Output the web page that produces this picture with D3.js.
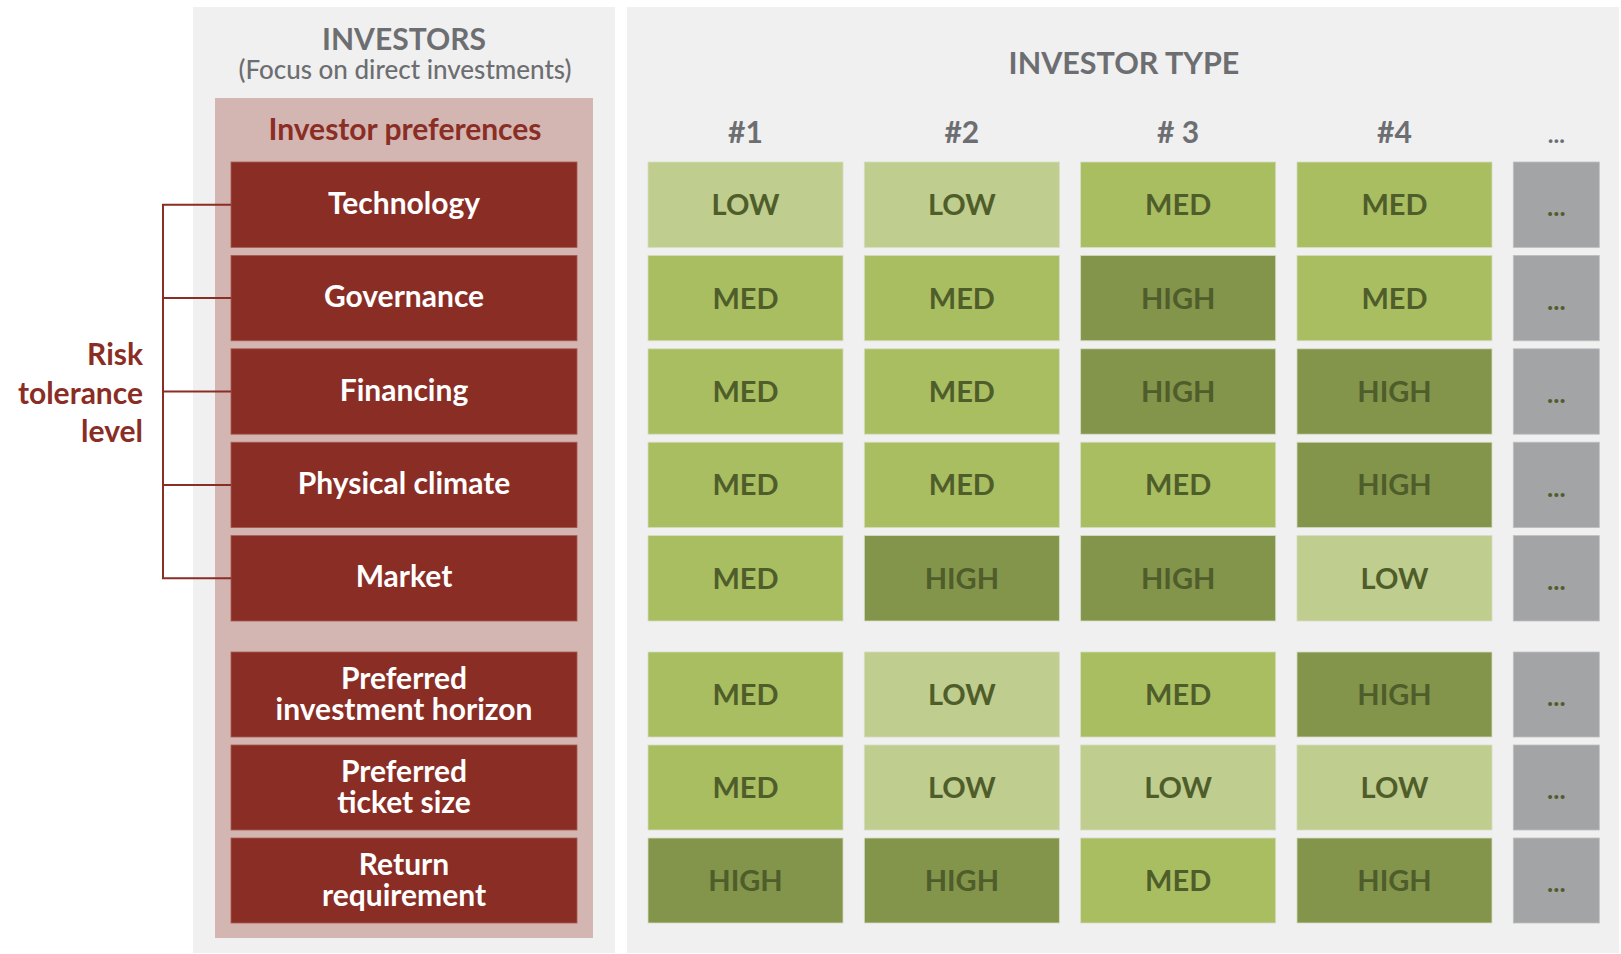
<!DOCTYPE html>
<html>
<head>
<meta charset="utf-8">
<script src="https://cdn.jsdelivr.net/npm/d3@7"></script>
<style>
  html, body { margin: 0; padding: 0; background: #ffffff; }
  svg { display: block; font-family: Lato, "Open Sans", "DejaVu Sans", sans-serif; }
</style>
</head>
<body>
<svg id="chart" width="1621" height="954"></svg>
<script>
// ---- data ----
const riskFactors = ["Technology", "Governance", "Financing", "Physical climate", "Market"];
const otherFactors = [["Preferred", "investment horizon"], ["Preferred", "ticket size"], ["Return", "requirement"]];
const investorTypes = ["#1", "#2", "# 3", "#4"];
const moreLabel = "...";
const levels = ["LOW", "MED", "HIGH"];
// values[row][investor]
const riskValues = [
  ["LOW", "LOW", "MED", "MED"],
  ["MED", "MED", "HIGH", "MED"],
  ["MED", "MED", "HIGH", "HIGH"],
  ["MED", "MED", "MED", "HIGH"],
  ["MED", "HIGH", "HIGH", "LOW"]
];
const otherValues = [
  ["MED", "LOW", "MED", "HIGH"],
  ["MED", "LOW", "LOW", "LOW"],
  ["HIGH", "HIGH", "MED", "HIGH"]
];

// ---- styles ----
const C = {
  panel: "#f0f0f0",
  pink: "#d3b5b1",
  red: "#8a2d25",
  grayText: "#6d6e71",
  cellText: "#4f5d2b",
  more: "#a3a4a6"
};
const color = d3.scaleOrdinal().domain(levels).range(["#bfcd8e", "#a9bd61", "#83944b"]);

const svg = d3.select("#chart");

// ---- scales ----
const yRisk = d3.scaleBand().domain(d3.range(riskFactors.length)).range([162, 621]).paddingInner(0.086).paddingOuter(0);
const yOther = d3.scaleBand().domain(d3.range(otherFactors.length)).range([652, 923]).paddingInner(0.086).paddingOuter(0);
const x = d3.scaleBand().domain(investorTypes).range([648, 1492]).paddingInner(0.0985).paddingOuter(0);
const xMore = x.range()[1] + x.step() * x.paddingInner();
const moreW = 86;

// ---- panels ----
svg.append("rect").attr("x", 193).attr("y", 7).attr("width", 422).attr("height", 946).attr("fill", C.panel);
svg.append("rect").attr("x", 627).attr("y", 7).attr("width", 992).attr("height", 946).attr("fill", C.panel);
svg.append("rect").attr("x", 215).attr("y", 98).attr("width", 378).attr("height", 840).attr("fill", C.pink);

// ---- left header ----
svg.append("text").attr("x", 404).attr("y", 50).attr("text-anchor", "middle")
  .attr("font-size", 30).attr("font-weight", 700).attr("fill", C.grayText).text("INVESTORS");
svg.append("text").attr("x", 405).attr("y", 79).attr("text-anchor", "middle")
  .attr("font-size", 26).attr("font-weight", 500).attr("fill", C.grayText).text("(Focus on direct investments)");
svg.append("text").attr("x", 405).attr("y", 140).attr("text-anchor", "middle")
  .attr("font-size", 30).attr("font-weight", 700).attr("fill", C.red).text("Investor preferences");

// ---- left row boxes ----
const boxX = 231, boxW = 346;
const riskG = svg.append("g");
riskFactors.forEach((name, i) => {
  riskG.append("rect").attr("x", boxX).attr("y", yRisk(i)).attr("width", boxW).attr("height", yRisk.bandwidth())
    .attr("fill", C.red).attr("stroke", "#a85a52").attr("stroke-width", 0.8);
  riskG.append("text").attr("x", boxX + boxW / 2).attr("y", yRisk(i) + yRisk.bandwidth() / 2)
    .attr("dy", "0.3em").attr("text-anchor", "middle").attr("font-size", 30).attr("font-weight", 700)
    .attr("fill", "#ffffff").text(name);
});
otherFactors.forEach((lines, i) => {
  riskG.append("rect").attr("x", boxX).attr("y", yOther(i)).attr("width", boxW).attr("height", yOther.bandwidth())
    .attr("fill", C.red).attr("stroke", "#a85a52").attr("stroke-width", 0.8);
  const t = riskG.append("text").attr("text-anchor", "middle").attr("font-size", 30).attr("font-weight", 700)
    .attr("fill", "#ffffff");
  lines.forEach((ln, k) => {
    t.append("tspan").attr("x", boxX + boxW / 2)
      .attr("y", yOther(i) + yOther.bandwidth() / 2 + (k - 0.5) * 31)
      .attr("dy", "0.33em").text(ln);
  });
});

// ---- bracket ----
const bx = 163;
const centers = riskFactors.map((d, i) => yRisk(i) + yRisk.bandwidth() / 2);
const br = svg.append("g").attr("stroke", C.red).attr("stroke-width", 2).attr("fill", "none");
br.append("line").attr("x1", bx).attr("x2", bx).attr("y1", centers[0]).attr("y2", centers[centers.length - 1]);
centers.forEach(cy => br.append("line").attr("x1", bx - 1).attr("x2", boxX).attr("y1", cy).attr("y2", cy));
const rt = svg.append("text").attr("text-anchor", "end").attr("font-size", 30).attr("font-weight", 700).attr("fill", C.red);
["Risk", "tolerance", "level"].forEach((ln, k) => {
  rt.append("tspan").attr("x", 143).attr("y", 365 + k * 38.5).text(ln);
});

// ---- right header ----
svg.append("text").attr("x", 1124).attr("y", 74).attr("text-anchor", "middle")
  .attr("font-size", 30.5).attr("font-weight", 700).attr("fill", C.grayText).text("INVESTOR TYPE");
svg.selectAll("text.colhead").data(investorTypes).join("text").attr("class", "colhead")
  .attr("x", d => x(d) + x.bandwidth() / 2).attr("y", 143).attr("text-anchor", "middle")
  .attr("font-size", 30).attr("font-weight", 700).attr("fill", C.grayText).text(d => d);
svg.append("text").attr("x", xMore + moreW / 2).attr("y", 143).attr("text-anchor", "middle")
  .attr("font-size", 24).attr("font-weight", 700).attr("fill", C.grayText).text(moreLabel);

// ---- cells ----
function drawCells(values, yS, cls) {
  const cells = [];
  values.forEach((row, r) => row.forEach((v, c) => cells.push({ r, c, v })));
  const g = svg.append("g").attr("class", cls);
  g.selectAll("rect.cell").data(cells).join("rect").attr("class", "cell")
    .attr("x", d => x(investorTypes[d.c])).attr("y", d => yS(d.r))
    .attr("width", x.bandwidth()).attr("height", yS.bandwidth())
    .attr("fill", d => color(d.v)).attr("stroke", "#d6dcc0").attr("stroke-width", 0.8);
  g.selectAll("text.cell").data(cells).join("text").attr("class", "cell")
    .attr("x", d => x(investorTypes[d.c]) + x.bandwidth() / 2).attr("y", d => yS(d.r) + yS.bandwidth() / 2)
    .attr("dy", "0.36em").attr("text-anchor", "middle").attr("font-size", 29).attr("font-weight", 700)
    .attr("fill", C.cellText).text(d => d.v);
  const rows = values.map((d, i) => i);
  g.selectAll("rect.more").data(rows).join("rect").attr("class", "more")
    .attr("x", xMore).attr("y", d => yS(d)).attr("width", moreW).attr("height", yS.bandwidth())
    .attr("fill", C.more).attr("stroke", "#bdbec0").attr("stroke-width", 0.8);
  g.selectAll("text.more").data(rows).join("text").attr("class", "more")
    .attr("x", xMore + moreW / 2).attr("y", d => yS(d) + yS.bandwidth() / 2)
    .attr("dy", "0.45em").attr("text-anchor", "middle").attr("font-size", 26).attr("font-weight", 700)
    .attr("fill", C.cellText).text(moreLabel);
}
drawCells(riskValues, yRisk, "risk");
drawCells(otherValues, yOther, "other");
</script>
</body>
</html>
